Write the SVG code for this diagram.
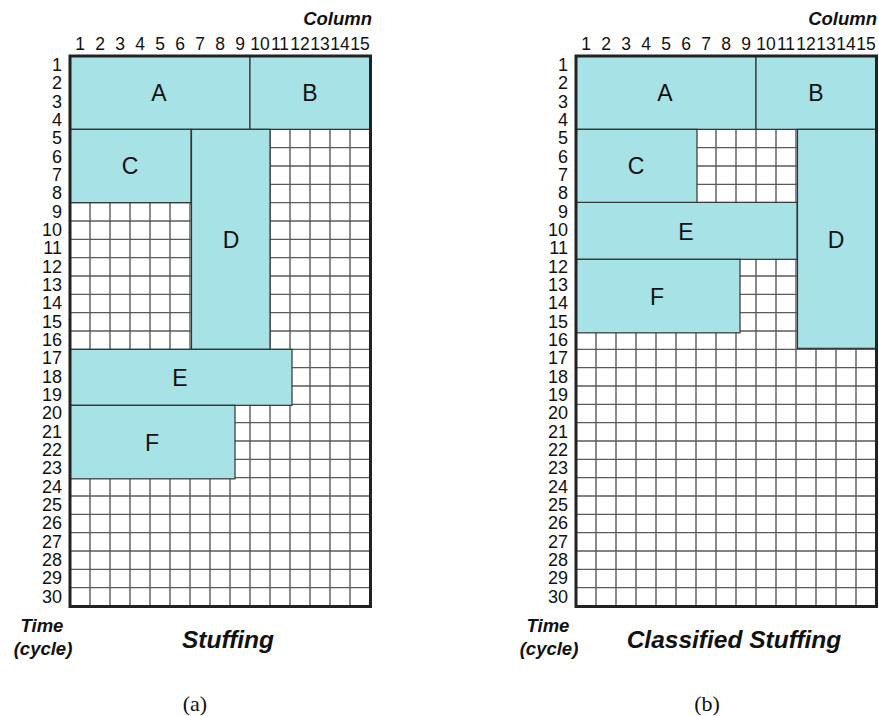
<svg xmlns="http://www.w3.org/2000/svg" width="879" height="716" viewBox="0 0 879 716">
<style>
.grid{fill:none;stroke:#5a5a5a;stroke-width:1.4}
.frame{fill:none;stroke:#222;stroke-width:3}
.blk{fill:#a7e2e6;stroke:#333;stroke-width:1.2}
.rl{font-family:"Liberation Sans",Arial,sans-serif;font-size:18px;fill:#111;text-anchor:end}
.cl{font-family:"Liberation Sans",Arial,sans-serif;font-size:17.5px;fill:#111;text-anchor:middle}
.bl{font-family:"Liberation Sans",Arial,sans-serif;font-size:23px;fill:#111;text-anchor:middle}
.ax{font-family:"Liberation Sans",Arial,sans-serif;font-size:18.5px;font-weight:bold;font-style:italic;fill:#111}
.ttl{font-family:"Liberation Sans",Arial,sans-serif;font-size:24.5px;font-weight:bold;font-style:italic;fill:#111;text-anchor:middle}
.cap{font-family:"Liberation Serif","Times New Roman",serif;font-size:22px;fill:#111;text-anchor:middle}
</style>
<defs>
<path id="gridpath" d="M90 56V606M110 56V606M130 56V606M150 56V606M170 56V606M190 56V606M210 56V606M230 56V606M250 56V606M270 56V606M290 56V606M310 56V606M330 56V606M350 56V606M70 74.33H370M70 92.67H370M70 111H370M70 129.33H370M70 147.67H370M70 166H370M70 184.33H370M70 202.67H370M70 221H370M70 239.33H370M70 257.67H370M70 276H370M70 294.33H370M70 312.67H370M70 331H370M70 349.33H370M70 367.67H370M70 386H370M70 404.33H370M70 422.67H370M70 441H370M70 459.33H370M70 477.67H370M70 496H370M70 514.33H370M70 532.67H370M70 551H370M70 569.33H370M70 587.67H370"/>
</defs>

<!-- Panel (a) -->
<g id="panel-a">
  <g id="grid-a">
    <use href="#gridpath" class="grid"/>
  </g>
  <g id="axes-a">
    <text class="ax" x="372" y="25" text-anchor="end">Column</text>
    <text class="cl" x="80" y="50">1</text><text class="cl" x="100" y="50">2</text><text class="cl" x="120" y="50">3</text><text class="cl" x="140" y="50">4</text><text class="cl" x="160" y="50">5</text><text class="cl" x="180" y="50">6</text><text class="cl" x="200" y="50">7</text><text class="cl" x="220" y="50">8</text><text class="cl" x="240" y="50">9</text><text class="cl" x="260" y="50">10</text><text class="cl" x="280" y="50">11</text><text class="cl" x="300" y="50">12</text><text class="cl" x="320" y="50">13</text><text class="cl" x="340" y="50">14</text><text class="cl" x="360" y="50">15</text>
    <text class="rl" x="62" y="70.8">1</text><text class="rl" x="62" y="89.2">2</text><text class="rl" x="62" y="107.5">3</text><text class="rl" x="62" y="125.8">4</text><text class="rl" x="62" y="144.2">5</text><text class="rl" x="62" y="162.5">6</text><text class="rl" x="62" y="180.8">7</text><text class="rl" x="62" y="199.2">8</text><text class="rl" x="62" y="217.5">9</text><text class="rl" x="62" y="235.8">10</text><text class="rl" x="62" y="254.2">11</text><text class="rl" x="62" y="272.5">12</text><text class="rl" x="62" y="290.8">13</text><text class="rl" x="62" y="309.2">14</text><text class="rl" x="62" y="327.5">15</text><text class="rl" x="62" y="345.8">16</text><text class="rl" x="62" y="364.2">17</text><text class="rl" x="62" y="382.5">18</text><text class="rl" x="62" y="400.8">19</text><text class="rl" x="62" y="419.2">20</text><text class="rl" x="62" y="437.5">21</text><text class="rl" x="62" y="455.8">22</text><text class="rl" x="62" y="474.2">23</text><text class="rl" x="62" y="492.5">24</text><text class="rl" x="62" y="510.8">25</text><text class="rl" x="62" y="529.2">26</text><text class="rl" x="62" y="547.5">27</text><text class="rl" x="62" y="565.8">28</text><text class="rl" x="62" y="584.2">29</text><text class="rl" x="62" y="602.5">30</text>
    <text class="ax" x="42" y="632" text-anchor="middle">Time</text>
    <text class="ax" x="43" y="655" text-anchor="middle">(cycle)</text>
  </g>
  <g id="a-A"><rect class="blk" x="70" y="56" width="180" height="73.33"/><text class="bl" x="159" y="101">A</text></g>
  <g id="a-B"><rect class="blk" x="250" y="56" width="120" height="73.33"/><text class="bl" x="310" y="101">B</text></g>
  <g id="a-C"><rect class="blk" x="70" y="129.33" width="121" height="73.33"/><text class="bl" x="130" y="174">C</text></g>
  <g id="a-D"><rect class="blk" x="191.5" y="129.33" width="78.5" height="220"/><text class="bl" x="231" y="248">D</text></g>
  <g id="a-E"><rect class="blk" x="70" y="349.33" width="222" height="56"/><text class="bl" x="180" y="386">E</text></g>
  <g id="a-F"><rect class="blk" x="70" y="405.33" width="165" height="73.5"/><text class="bl" x="152" y="451">F</text></g>
  <rect class="frame" x="70" y="56" width="300.5" height="550.5"/>
  <text class="ttl" x="228" y="648">Stuffing</text>
  <text class="cap" x="195" y="711">(a)</text>
</g>

<!-- Panel (b) -->
<g id="panel-b" transform="translate(506,0)">
  <g id="grid-b">
    <use href="#gridpath" class="grid"/>
  </g>
  <g id="axes-b">
    <text class="ax" x="371" y="25" text-anchor="end">Column</text>
    <text class="cl" x="80" y="50">1</text><text class="cl" x="100" y="50">2</text><text class="cl" x="120" y="50">3</text><text class="cl" x="140" y="50">4</text><text class="cl" x="160" y="50">5</text><text class="cl" x="180" y="50">6</text><text class="cl" x="200" y="50">7</text><text class="cl" x="220" y="50">8</text><text class="cl" x="240" y="50">9</text><text class="cl" x="260" y="50">10</text><text class="cl" x="280" y="50">11</text><text class="cl" x="300" y="50">12</text><text class="cl" x="320" y="50">13</text><text class="cl" x="340" y="50">14</text><text class="cl" x="360" y="50">15</text>
    <text class="rl" x="62" y="70.8">1</text><text class="rl" x="62" y="89.2">2</text><text class="rl" x="62" y="107.5">3</text><text class="rl" x="62" y="125.8">4</text><text class="rl" x="62" y="144.2">5</text><text class="rl" x="62" y="162.5">6</text><text class="rl" x="62" y="180.8">7</text><text class="rl" x="62" y="199.2">8</text><text class="rl" x="62" y="217.5">9</text><text class="rl" x="62" y="235.8">10</text><text class="rl" x="62" y="254.2">11</text><text class="rl" x="62" y="272.5">12</text><text class="rl" x="62" y="290.8">13</text><text class="rl" x="62" y="309.2">14</text><text class="rl" x="62" y="327.5">15</text><text class="rl" x="62" y="345.8">16</text><text class="rl" x="62" y="364.2">17</text><text class="rl" x="62" y="382.5">18</text><text class="rl" x="62" y="400.8">19</text><text class="rl" x="62" y="419.2">20</text><text class="rl" x="62" y="437.5">21</text><text class="rl" x="62" y="455.8">22</text><text class="rl" x="62" y="474.2">23</text><text class="rl" x="62" y="492.5">24</text><text class="rl" x="62" y="510.8">25</text><text class="rl" x="62" y="529.2">26</text><text class="rl" x="62" y="547.5">27</text><text class="rl" x="62" y="565.8">28</text><text class="rl" x="62" y="584.2">29</text><text class="rl" x="62" y="602.5">30</text>
    <text class="ax" x="42" y="632" text-anchor="middle">Time</text>
    <text class="ax" x="43" y="655" text-anchor="middle">(cycle)</text>
  </g>
  <g id="b-A"><rect class="blk" x="70" y="56" width="180" height="73.33"/><text class="bl" x="159" y="101">A</text></g>
  <g id="b-B"><rect class="blk" x="250" y="56" width="120" height="73.33"/><text class="bl" x="310" y="101">B</text></g>
  <g id="b-C"><rect class="blk" x="70" y="129.33" width="121" height="73.33"/><text class="bl" x="130" y="174">C</text></g>
  <g id="b-D"><rect class="blk" x="291.5" y="129.33" width="78.5" height="219"/><text class="bl" x="330" y="248">D</text></g>
  <g id="b-E"><rect class="blk" x="70" y="202.33" width="221" height="57"/><text class="bl" x="180" y="240">E</text></g>
  <g id="b-F"><rect class="blk" x="70" y="259.33" width="164" height="73.5"/><text class="bl" x="151" y="305">F</text></g>
  <rect class="frame" x="70" y="56" width="300.5" height="550.5"/>
  <text class="ttl" x="228" y="648">Classified Stuffing</text>
  <text class="cap" x="201" y="711">(b)</text>
</g>
</svg>
